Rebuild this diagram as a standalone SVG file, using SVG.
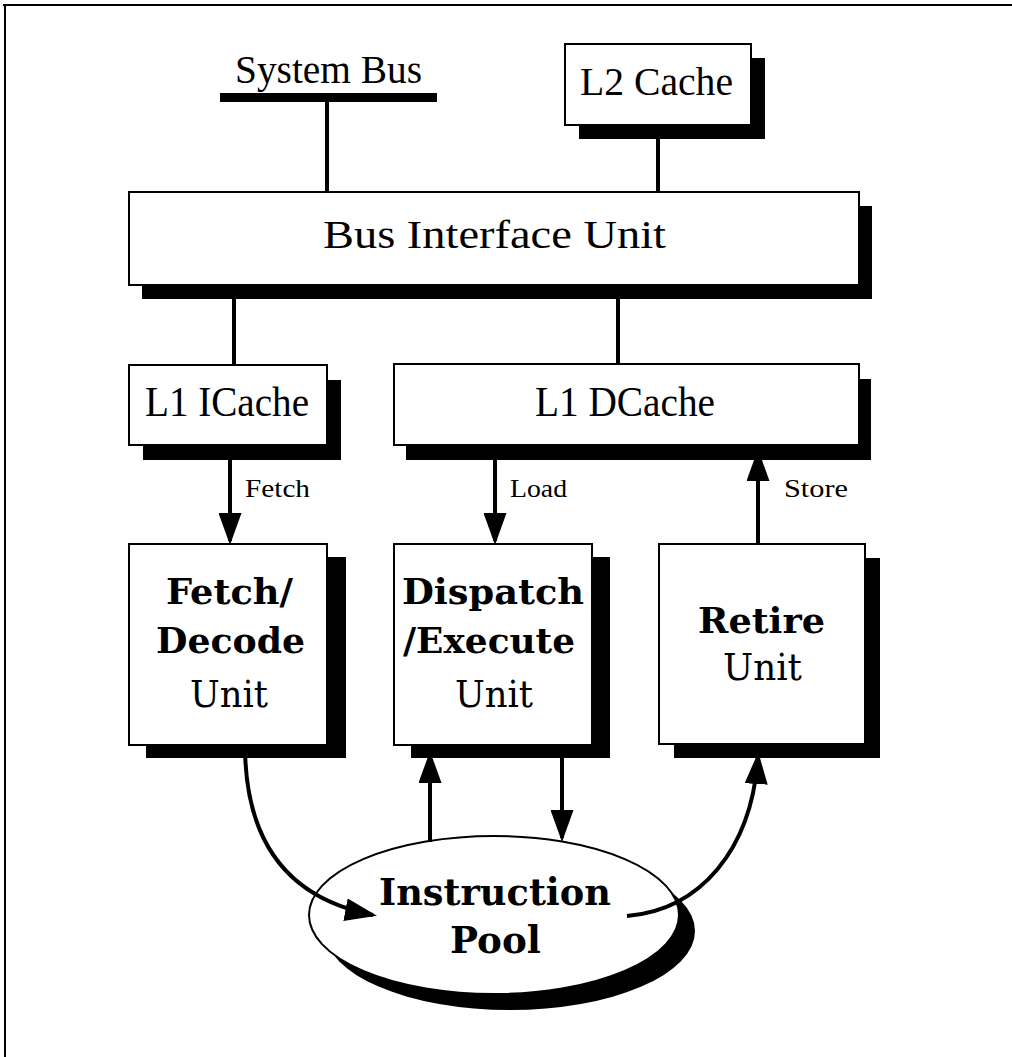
<svg xmlns="http://www.w3.org/2000/svg" width="1012" height="1057" viewBox="0 0 1012 1057">
<defs>
<style>
.box{fill:#fff;stroke:#000;stroke-width:2}
.sh{fill:#000}
.ln{fill:none;stroke:#000;stroke-width:4}
.tr{font-family:"Liberation Serif","Times New Roman",serif;fill:#000;text-anchor:middle}
.tb{font-family:"DejaVu Serif",serif;font-weight:bold;fill:#000;text-anchor:middle}
.tu{font-family:"DejaVu Serif",serif;fill:#000;text-anchor:middle}
</style>
<marker id="ah" markerUnits="userSpaceOnUse" markerWidth="32" markerHeight="23" refX="28" refY="11.5" orient="auto" viewBox="0 0 32 23">
<path d="M0,0 L32,11.5 L0,23 Z" fill="#000"/>
</marker>
</defs>
<rect width="1012" height="1057" fill="#fff"/>
<g id="frame" fill="none" stroke="#000" stroke-width="2">
<path d="M3,5 H1012 M5,5 V1057"/>
</g>
<g id="system-bus">
<rect x="220" y="93" width="217" height="9" fill="#000"/>
<text class="tr" x="328.5" y="83" font-size="40" textLength="187" lengthAdjust="spacingAndGlyphs">System Bus</text>
</g>
<g id="instruction-pool">
<ellipse cx="510" cy="931" rx="185" ry="79" class="sh"/>
<ellipse cx="494" cy="915" rx="185" ry="79" class="box"/>
<text class="tb" x="495" y="905" font-size="38" textLength="232" lengthAdjust="spacingAndGlyphs">Instruction</text>
<text class="tb" x="495.5" y="953" font-size="38" textLength="91" lengthAdjust="spacingAndGlyphs">Pool</text>
</g>
<g id="connectors">
<path class="ln" d="M327,102 V192"/>
<path class="ln" d="M658,125 V192"/>
<path class="ln" d="M234,299 V365"/>
<path class="ln" d="M618,299 V364"/>
<path class="ln" d="M230,452 V541" marker-end="url(#ah)"/>
<path class="ln" d="M495,452 V541" marker-end="url(#ah)"/>
<path class="ln" d="M758,544 V453" marker-end="url(#ah)"/>
<path class="ln" d="M430,842 V755" marker-end="url(#ah)"/>
<path class="ln" d="M562,750 V838" marker-end="url(#ah)"/>
<path class="ln" d="M245,745 C245,850 295,900 373,915" marker-end="url(#ah)"/>
<path class="ln" d="M627,916 C700,910 752,850 758,756" marker-end="url(#ah)"/>
<text class="tr" x="277.5" y="497" font-size="26" textLength="65" lengthAdjust="spacingAndGlyphs">Fetch</text>
<text class="tr" x="538.5" y="497" font-size="26" textLength="57" lengthAdjust="spacingAndGlyphs">Load</text>
<text class="tr" x="816" y="497" font-size="26" textLength="64" lengthAdjust="spacingAndGlyphs">Store</text>
</g>
<g id="l2-cache">
<rect x="579" y="58" width="186" height="81" class="sh"/>
<rect x="565" y="44" width="186" height="81" class="box"/>
<text class="tr" x="656.5" y="95" font-size="40" textLength="153" lengthAdjust="spacingAndGlyphs">L2 Cache</text>
</g>
<g id="bus-interface-unit">
<rect x="142" y="206" width="730" height="93" class="sh"/>
<rect x="129" y="192" width="730" height="93" class="box"/>
<text class="tr" x="494.5" y="248" font-size="40" textLength="343" lengthAdjust="spacingAndGlyphs">Bus Interface Unit</text>
</g>
<g id="l1-icache">
<rect x="143" y="380" width="198" height="80" class="sh"/>
<rect x="129" y="365" width="198" height="80" class="box"/>
<text class="tr" x="227" y="416" font-size="42" textLength="164" lengthAdjust="spacingAndGlyphs">L1 ICache</text>
</g>
<g id="l1-dcache">
<rect x="406" y="379" width="465" height="81" class="sh"/>
<rect x="394" y="364" width="465" height="81" class="box"/>
<text class="tr" x="625" y="416" font-size="42" textLength="180" lengthAdjust="spacingAndGlyphs">L1 DCache</text>
</g>
<g id="fetch-decode-unit">
<rect x="146" y="557" width="200" height="201" class="sh"/>
<rect x="129" y="544" width="198" height="201" class="box"/>
<text class="tb" x="229.5" y="604" font-size="36" textLength="127" lengthAdjust="spacingAndGlyphs">Fetch/</text>
<text class="tb" x="230.5" y="653" font-size="36" textLength="149" lengthAdjust="spacingAndGlyphs">Decode</text>
<text class="tu" x="229" y="707" font-size="38" textLength="78" lengthAdjust="spacingAndGlyphs">Unit</text>
</g>
<g id="dispatch-execute-unit">
<rect x="411" y="557" width="199" height="201" class="sh"/>
<rect x="394" y="544" width="198" height="201" class="box"/>
<text class="tb" x="493" y="604" font-size="36" textLength="182" lengthAdjust="spacingAndGlyphs">Dispatch</text>
<text class="tb" x="489" y="653" font-size="36" textLength="172" lengthAdjust="spacingAndGlyphs">/Execute</text>
<text class="tu" x="494" y="707" font-size="38" textLength="78" lengthAdjust="spacingAndGlyphs">Unit</text>
</g>
<g id="retire-unit">
<rect x="674" y="558" width="206" height="200" class="sh"/>
<rect x="659" y="544" width="206" height="200" class="box"/>
<text class="tb" x="761.5" y="633" font-size="36" textLength="127" lengthAdjust="spacingAndGlyphs">Retire</text>
<text class="tu" x="762.5" y="680" font-size="38" textLength="79" lengthAdjust="spacingAndGlyphs">Unit</text>
</g>
</svg>
